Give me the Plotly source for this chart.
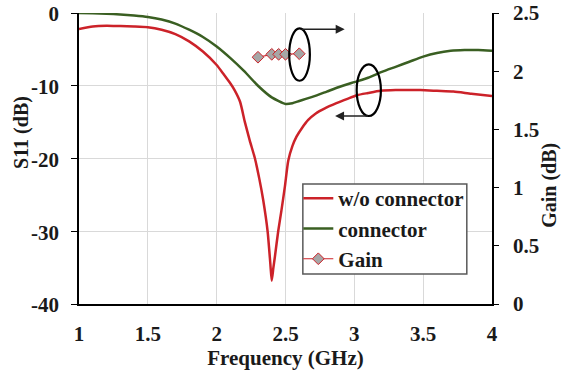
import plotly.graph_objects as go

# ---- data ----
freq_wo = [1.0, 1.1, 1.2, 1.3, 1.4, 1.5, 1.6, 1.7, 1.8, 1.9, 2.0, 2.05, 2.1, 2.13, 2.17,
           2.205, 2.24, 2.278, 2.31, 2.338, 2.37, 2.39, 2.40, 2.412, 2.423, 2.447, 2.47,
           2.496, 2.52, 2.55, 2.58, 2.62, 2.665, 2.72, 2.786, 2.87, 2.95, 3.02, 3.1, 3.19,
           3.3, 3.48, 3.6, 3.72, 3.85, 4.0]
s11_wo = [-2.2, -1.85, -1.75, -1.8, -1.85, -1.95, -2.3, -2.9, -3.9, -5.3, -7.15, -8.4, -9.7,
          -10.6, -12.2, -15.0, -17.5, -20.0, -22.8, -25.7, -30.0, -34.5, -36.8, -35.0, -33.5,
          -30.0, -27.2, -23.8, -20.3, -18.3, -17.0, -15.8, -14.7, -13.8, -13.1, -12.4, -11.8,
          -11.3, -11.0, -10.7, -10.6, -10.6, -10.7, -10.8, -11.1, -11.4]

freq_con = [1.0, 1.1, 1.2, 1.3, 1.4, 1.5, 1.6, 1.7, 1.8, 1.9, 2.0, 2.1, 2.2, 2.3, 2.4, 2.5,
            2.55, 2.6, 2.7, 2.8, 2.9, 3.0, 3.1, 3.2, 3.3, 3.4, 3.5, 3.6, 3.7, 3.8, 3.9, 4.0]
s11_con = [0.0, -0.05, -0.1, -0.2, -0.35, -0.55, -0.9, -1.45, -2.3, -3.3, -4.6, -6.2, -8.0,
           -10.0, -11.6, -12.5, -12.4, -12.1, -11.5, -10.8, -10.1, -9.5, -8.9, -8.1, -7.4,
           -6.7, -6.0, -5.5, -5.2, -5.1, -5.1, -5.2]

freq_gain = [2.3, 2.4, 2.45, 2.5, 2.6]
gain = [2.12, 2.145, 2.145, 2.145, 2.15]

x_ticks = [1, 1.5, 2, 2.5, 3, 3.5, 4]
x_ticktext = ["1", "1.5", "2", "2.5", "3", "3.5", "4"]
y_ticks = [-40, -30, -20, -10, 0]
y_ticktext = ["-40", "-30", "-20", "-10", "0"]
y2_ticks = [0, 0.5, 1, 1.5, 2, 2.5]
y2_ticktext = ["0", "0.5", "1", "1.5", "2", "2.5"]

RED = "#cc2229"
GREEN = "#3a5f22"
FONT = "Liberation Serif, Times New Roman, DejaVu Serif, serif"
TXT = "#1a1a1a"

fig = go.Figure()
fig.add_trace(go.Scatter(x=freq_wo, y=s11_wo, mode="lines", name="w/o connector",
                         line=dict(color=RED, width=2.5, shape="spline", smoothing=0.6)))
fig.add_trace(go.Scatter(x=freq_con, y=s11_con, mode="lines", name="connector",
                         line=dict(color=GREEN, width=2.5, shape="spline", smoothing=0.6)))
fig.add_trace(go.Scatter(x=freq_gain, y=gain, mode="lines+markers", name="Gain", yaxis="y2",
                         line=dict(color=RED, width=1.2),
                         marker=dict(symbol="diamond", size=9, color="#a6a6a6",
                                     line=dict(color=RED, width=1))))

# ellipses and arrows (annotations)
fig.add_shape(type="circle", xref="x", yref="y", x0=2.527, x1=2.677, y0=-9.31, y1=-2.10,
              line=dict(color="black", width=2.2))
fig.add_shape(type="circle", xref="x", yref="y", x0=3.017, x1=3.193, y0=-14.16, y1=-7.05,
              line=dict(color="black", width=2.2))
fig.add_annotation(x=2.93, y=-2.24, ax=2.605, ay=-2.24, xref="x", yref="y", axref="x", ayref="y",
                   text="", showarrow=True, arrowhead=2, arrowsize=1.2, arrowwidth=1.5,
                   arrowcolor="#222")
fig.add_annotation(x=2.86, y=-14.16, ax=3.11, ay=-14.16, xref="x", yref="y", axref="x", ayref="y",
                   text="", showarrow=True, arrowhead=2, arrowsize=1.2, arrowwidth=1.5,
                   arrowcolor="#222")

# legend frame
fig.add_shape(type="rect", xref="paper", yref="paper", x0=0.542, x1=0.939, y0=0.103, y1=0.412,
              fillcolor="white", line=dict(color="#595959", width=1.5), layer="above")

# axis titles
fig.add_annotation(text="S11 (dB)", xref="paper", yref="paper", x=-0.138, y=0.588,
                   textangle=-90, showarrow=False, xanchor="center", yanchor="middle",
                   font=dict(family=FONT, size=20, color=TXT, weight="bold"))
fig.add_annotation(text="Gain (dB)", xref="paper", yref="paper", x=1.140, y=0.409,
                   textangle=-90, showarrow=False, xanchor="center", yanchor="middle",
                   font=dict(family=FONT, size=20, color=TXT, weight="bold"))

tickfont = dict(family=FONT, size=21, color=TXT, weight="bold")
titlefont = dict(family=FONT, size=21, color=TXT, weight="bold")

fig.update_layout(
    width=566, height=376,
    margin=dict(l=79, r=74, t=13, b=72, autoexpand=False),
    paper_bgcolor="white", plot_bgcolor="white",
    showlegend=True,
    legend=dict(x=0.531, y=0.433, xanchor="left", yanchor="top",
                bgcolor="rgba(0,0,0,0)", borderwidth=0,
                font=dict(family=FONT, size=21, color=TXT, weight="bold"),
                tracegroupgap=0),
    xaxis=dict(range=[1, 4], tickvals=x_ticks, ticktext=x_ticktext, showgrid=True,
               gridcolor="#d9d9d9", gridwidth=1, showline=True, linecolor="black", linewidth=1.5,
               ticks="", zeroline=False, tickfont=tickfont, automargin=False,
               ticklabelstandoff=10, ticklabeloverflow="allow",
               title=dict(text="Frequency (GHz)", font=titlefont, standoff=4)),
    yaxis=dict(range=[-40, 0], tickvals=y_ticks, ticktext=y_ticktext, showgrid=True,
               gridcolor="#d9d9d9", gridwidth=1, showline=True, linecolor="black", linewidth=1.5,
               ticks="outside", ticklen=6, tickcolor="black", zeroline=False, tickfont=tickfont,
               automargin=False, ticklabelstandoff=8, ticklabeloverflow="allow",
               ticklabelshift=1),
    yaxis2=dict(range=[0, 2.5], tickvals=y2_ticks, ticktext=y2_ticktext, overlaying="y",
                side="right", showgrid=False, showline=True, linecolor="black", linewidth=1.5,
                ticks="outside", ticklen=5, tickcolor="black", zeroline=False, tickfont=tickfont,
                automargin=False, ticklabelstandoff=10, ticklabeloverflow="allow"),
)

# remove the default 8px page margin so the figure sits at the window's corner
fig.write_html("out.html", config={"displayModeBar": False},
               post_script="document.body.style.margin='0';")
